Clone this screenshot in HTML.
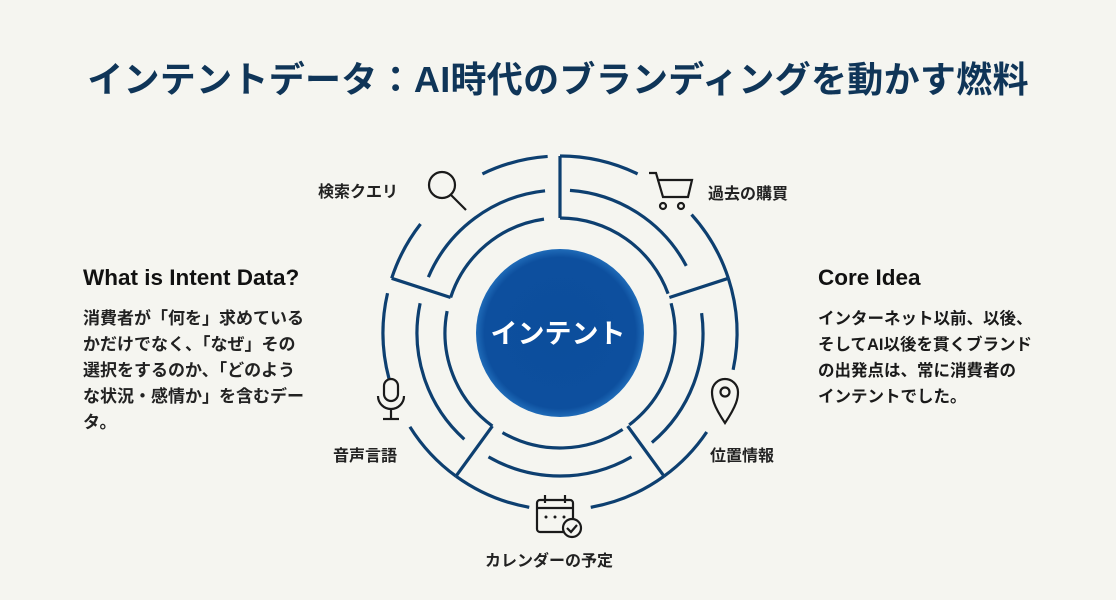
<!DOCTYPE html>
<html><head><meta charset="utf-8">
<style>
body{margin:0;width:1116px;height:600px;background:#f5f5f0;overflow:hidden;font-family:"Liberation Sans","Noto Sans CJK JP",sans-serif;color:#1a1a1a;position:relative}
.t{position:absolute;white-space:nowrap}
h1{position:absolute;left:0;width:1116px;top:51px;margin:0;text-align:center;font-size:36px;font-weight:bold;color:#0f3558;letter-spacing:0.3px}
.h{font-size:22.5px;font-weight:bold;color:#111}
.p{font-size:16.5px;line-height:26px}
.lb{font-size:16px;font-weight:bold;color:#222}
</style></head><body>
<h1>インテントデータ：AI時代のブランディングを動かす燃料</h1>
<div class="t h" style="left:83px;top:265px">What is Intent Data?</div>
<div class="t p" style="left:83px;top:306px;font-weight:bold;color:#222;font-size:17px">消費者が「何を」求めている<br>かだけでなく、「なぜ」その<br>選択をするのか、「どのよう<br>な状況・感情か」を含むデー<br>タ。</div>
<div class="t h" style="left:818px;top:265px">Core Idea</div>
<div class="t p" style="left:818px;top:306px;font-weight:bold">インターネット以前、以後、<br>そしてAI以後を貫くブランド<br>の出発点は、常に消費者の<br>インテントでした。</div>

<div class="t lb" style="left:318px;top:178px">検索クエリ</div>
<div class="t lb" style="left:708px;top:180px">過去の購買</div>
<div class="t lb" style="left:710px;top:442px">位置情報</div>
<div class="t lb" style="left:333px;top:442px">音声言語</div>
<div class="t lb" style="left:485px;top:547px">カレンダーの予定</div>

<svg id="s" width="1116" height="600" style="position:absolute;left:0;top:0">
<defs><radialGradient id="g" cx="50%" cy="50%" r="50%"><stop offset="0" stop-color="#0c4e9c"/><stop offset="0.9" stop-color="#0d4f9e"/><stop offset="1" stop-color="#1f6bb8"/></radialGradient></defs>
<circle cx="560" cy="333" r="84" fill="url(#g)"/>
<text x="558" y="343" text-anchor="middle" font-size="27" font-weight="bold" fill="#fff" font-family="Liberation Sans,Noto Sans CJK JP,sans-serif">インテント</text>
<g id="rings" fill="none" stroke="#0d3f70" stroke-width="3.2" stroke-linecap="butt"></g>
<g fill="none" stroke="#1a1a1a" stroke-width="2.2">
 <circle cx="442" cy="185" r="13"/><line x1="451" y1="195" x2="466" y2="210"/>
 <path d="M649 173 h7 l7 24 h25 l4 -17 h-35"/><circle cx="663" cy="206" r="3"/><circle cx="681" cy="206" r="3"/>
 <path d="M725 423 C713 405 712 398 712 392 a13 13 0 0 1 26 0 c0 6 -1 13 -13 31z"/><circle cx="725" cy="392" r="4.5"/>
 <rect x="384" y="379" width="14" height="22" rx="7"/><path d="M378 396 a13 13 0 0 0 26 0"/><line x1="391" y1="409" x2="391" y2="419"/><line x1="383" y1="419" x2="399" y2="419"/>
 <rect x="537" y="500" width="36" height="32" rx="3"/><line x1="537" y1="508" x2="573" y2="508"/><line x1="545" y1="495" x2="545" y2="503"/><line x1="565" y1="495" x2="565" y2="503"/>
 <circle cx="572" cy="528" r="9" fill="#f5f5f0"/><path d="M567 528 l4 4 l6 -7"/>
</g>
<g fill="#1a1a1a"><circle cx="546" cy="517" r="1.5"/><circle cx="555" cy="517" r="1.5"/><circle cx="564" cy="517" r="1.5"/></g>
</svg>
<script>
var cx=560,cy=333,g=document.getElementById('rings');
function pt(r,a){a=a*Math.PI/180;return [cx+r*Math.sin(a),cy-r*Math.cos(a)];}
function arc(r,a1,a2){var p=pt(r,a1),q=pt(r,a2);var l=(a2-a1)>180?1:0;
 var e=document.createElementNS('http://www.w3.org/2000/svg','path');
 e.setAttribute('d','M'+p[0]+' '+p[1]+' A'+r+' '+r+' 0 '+l+' 1 '+q[0]+' '+q[1]);g.appendChild(e);}
function rad(a,r1,r2){var p=pt(r1,a),q=pt(r2,a);var e=document.createElementNS('http://www.w3.org/2000/svg','line');
 e.setAttribute('x1',p[0]);e.setAttribute('y1',p[1]);e.setAttribute('x2',q[0]);e.setAttribute('y2',q[1]);g.appendChild(e);}
[[-26,-4],[0,26],[48,72],[72,102],[124,144],[144,170],[190,216],[216,238],[255,283],[288,308]].forEach(function(s){arc(177,s[0],s[1]);});
[[293,354],[4,62],[82,140],[150,210],[222,282]].forEach(function(s){arc(143,s[0],s[1]);});
[[288,352],[0,70],[75,143],[147,210],[216,281]].forEach(function(s){arc(115,s[0],s[1]);});
[[0],[72],[144],[216],[288]].forEach(function(s){rad(s[0],115,177);});
</script>
</body></html>
